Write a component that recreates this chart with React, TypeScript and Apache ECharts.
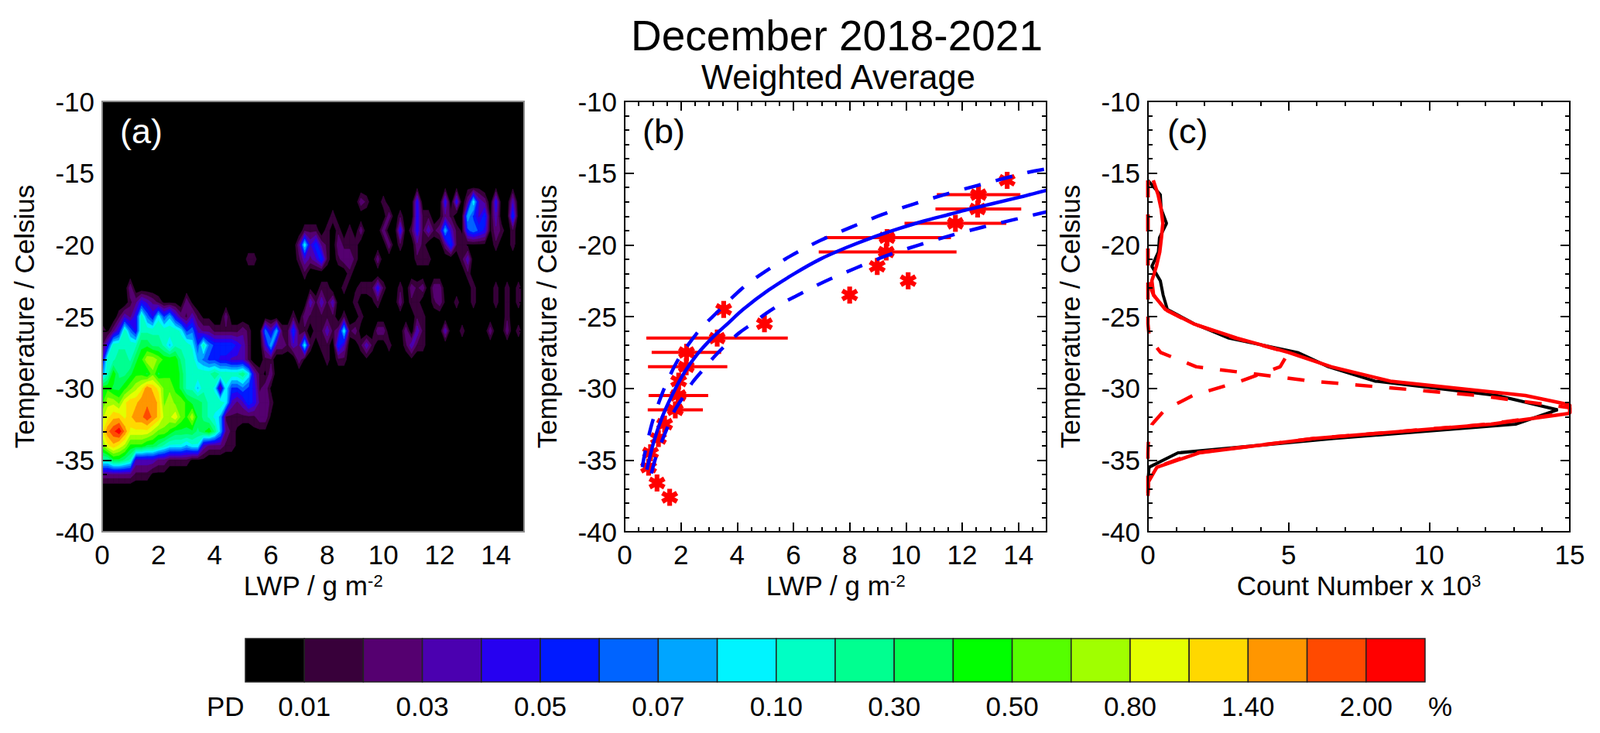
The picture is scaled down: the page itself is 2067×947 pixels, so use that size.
import React, { useEffect, useRef } from "react";
import * as echarts from "echarts";

const FONT = "Liberation Sans";
const TITLE = "December 2018-2021";
const SUBTITLE = "Weighted Average";

// ---- colour scale ----
const bandColors = [
  "#000000", "#38003a", "#550070", "#4b00b0", "#2600f0", "#001aff", "#0064ff", "#00a5ff", "#00f4ff", "#00ffc4",
  "#00ff90", "#00ff55", "#00ff00", "#55ff00", "#a0ff00", "#e4ff00", "#ffd800", "#ff9600", "#ff4a00", "#ff0000",
];
const bandEdgeLabels = ["0.01", "0.03", "0.05", "0.07", "0.10", "0.30", "0.50", "0.80", "1.40", "2.00"];

// ---- panel (a): colour band of each node. Rows are temperatures, columns LWP in steps of 0.2 from 0.
// "." is empty, digits and a-j are bands 0-19.
const pdNodeStep = 0.2;
const blobTemps = [-23, -24, -25, -26, -27, -28, -29, -30, -31, -32, -33, -34, -35, -36];
const blobBandRows = [
  ".....2",
  ".....124321000.20",
  "...13249648574213100..2",
  "1024964" + "9999999" + "856322" + "11111" + "21" + ".." + "6371151",
  "1499999bbaa979998" + "5965555431" + ".." + "372213281",
  "399aa9bceedccca99" + "7655443331" + ".." + "11" + "...." + "20",
  "69caabccbdbcccb" + "99999" + "a" + "9999" + "a83102",
  "ccbbcdefhgfddcb" + "99799" + "8285565" + "41" + "20",
  "ceedfgghhhgdedd" + "cbba999" + "8323542" + "21",
  "efggfghhihgeefd" + "ceba987" + "111111" + "220",
  "fhijhffffeddcbb" + "bbabca7" + "210" + ".." + "000",
  "dfgfecccbba9888" + "788322211" + "0",
  "99bba9333322111" + "1000",
  "222222111000",
];
// Isolated cells right of the main blob: [LWP, temperature, band]
const isolatedNodes: number[][] = [
  [9.2, -17, 2], [9.4, -17, 1], [10.0, -17, 1], [11.2, -17, 4], [12.2, -17, 4], [12.6, -17, 4], [13.0, -17, 2], [13.2, -17, 8], [13.4, -17, 3], [13.6, -17, 2], [14.0, -17, 4], [14.6, -17, 3],
  [13.0, -16, 0], [13.2, -16, 0], [13.4, -16, 0], [14.0, -16, 0], [14.6, -16, 0], [11.2, -16, 0], [12.2, -16, 0], [12.6, -16, 0],
  [8.2, -18, 1], [10.2, -18, 2], [10.6, -18, 1], [11.2, -18, 4], [11.4, -18, 1], [11.6, -18, 1], [12.0, -18, 0], [12.2, -18, 2], [12.4, -18, 1], [12.8, -18, 0], [13.0, -18, 7], [13.2, -18, 5], [13.4, -18, 3], [13.6, -18, 5], [13.8, -18, 0], [14.0, -18, 3], [14.6, -18, 5],
  [7.2, -19, 1], [7.4, -19, 1], [7.6, -19, 1], [8.0, -19, 1], [8.4, -19, 1], [8.8, -19, 1], [9.2, -19, 2], [10.0, -19, 2], [10.6, -19, 4], [11.0, -19, 1], [11.2, -19, 4], [11.4, -19, 1], [11.6, -19, 3], [11.8, -19, 1], [12.0, -19, 2], [12.2, -19, 7], [12.4, -19, 3], [12.6, -19, 1], [12.8, -19, 0], [13.0, -19, 5], [13.2, -19, 6], [13.4, -19, 5], [13.6, -19, 4], [13.8, -19, 0], [14.0, -19, 2], [14.2, -19, 1], [14.6, -19, 1],
  [7.0, -20, 2], [7.2, -20, 8], [7.4, -20, 3], [7.6, -20, 5], [7.8, -20, 2], [8.0, -20, 1], [8.4, -20, 2], [8.6, -20, 1], [8.8, -20, 1], [9.0, -20, 1], [10.2, -20, 2], [10.6, -20, 1], [11.2, -20, 2], [11.4, -20, 1], [12.2, -20, 2], [12.4, -20, 5], [12.6, -20, 1], [12.8, -20, 1], [13.0, -20, 0], [13.2, -20, 0], [13.4, -20, 0], [13.6, -20, 0], [14.0, -20, 1], [14.6, -20, 1],
  [5.2, -21, 1], [5.4, -21, 1], [7.0, -21, 1], [7.2, -21, 3], [7.4, -21, 2], [7.6, -21, 3], [7.8, -21, 5], [8.0, -21, 1], [8.4, -21, 1], [8.6, -21, 2], [8.8, -21, 2], [9.0, -21, 1], [9.8, -21, 2], [11.2, -21, 1], [11.4, -21, 1], [11.6, -21, 1], [12.8, -21, 1], [13.0, -21, 3],
  [7.2, -22, 1], [8.8, -22, 1], [13.0, -22, 1],
  [7.4, -23, 0], [7.8, -23, 1], [8.0, -23, 1], [8.6, -23, 1], [9.0, -23, 0], [9.2, -23, 1], [9.4, -23, 1], [9.6, -23, 1], [9.8, -23, 4], [10.0, -23, 1], [10.6, -23, 1], [11.0, -23, 2], [11.2, -23, 1], [11.4, -23, 2], [11.8, -23, 2], [12.0, -23, 2], [13.2, -23, 1], [14.0, -23, 1], [14.4, -23, 1], [14.8, -23, 1],
  [7.4, -24, 3], [7.6, -24, 1], [7.8, -24, 3], [8.0, -24, 1], [8.2, -24, 3], [9.0, -24, 1], [9.6, -24, 0], [9.8, -24, 1], [10.6, -24, 2], [11.0, -24, 1], [11.2, -24, 1], [11.8, -24, 1], [12.0, -24, 2], [12.2, -24, 0], [12.6, -24, 1], [13.2, -24, 1], [14.0, -24, 1], [14.4, -24, 1], [14.8, -24, 1],
  [6.8, -25, 1], [7.2, -25, 2], [7.4, -25, 1], [7.6, -25, 1], [7.8, -25, 1], [8.0, -25, 1], [8.2, -25, 1], [8.6, -25, 1], [9.2, -25, 1], [11.2, -25, 1], [11.4, -25, 1], [14.4, -25, 1],
  [7.2, -26, 1], [7.6, -26, 1], [7.8, -26, 1], [8.0, -26, 3], [8.2, -26, 1], [8.4, -26, 2], [8.6, -26, 8], [8.8, -26, 1], [9.0, -26, 2], [9.8, -26, 2], [10.0, -26, 2], [10.8, -26, 2], [11.2, -26, 3], [11.4, -26, 1], [12.2, -26, 3], [12.8, -26, 1], [13.8, -26, 2], [14.4, -26, 2], [14.8, -26, 1],
  [7.8, -27, 1], [8.0, -27, 1], [8.4, -27, 5], [8.6, -27, 3], [9.2, -27, 1], [9.4, -27, 3], [9.6, -27, 1], [10.2, -27, 1], [10.8, -27, 1], [11.0, -27, 3], [11.2, -27, 1], [11.4, -27, 1],
  [8.0, -28, 1], [8.4, -28, 1], [8.6, -28, 1], [9.4, -28, 0], [11.0, -28, 0],
];

// ---- panel (b) ----
const starPoints = [
  [13.6, -15.5], [12.58, -16.5], [12.55, -17.5], [11.76, -18.5], [9.33, -19.5], [9.3, -20.5], [8.98, -21.5], [10.08, -22.5],
  [8.0, -23.5], [3.52, -24.5], [4.97, -25.5], [3.29, -26.5], [2.2, -27.5], [2.19, -28.5], [1.92, -29.5], [1.9, -30.5],
  [1.8, -31.5], [1.42, -32.5], [1.2, -33.5], [0.92, -34.5], [0.85, -35.5], [1.15, -36.6], [1.6, -37.6],
];
// [low LWP, high LWP, temperature]
const errorBars = [
  [11.1, 14.07, -16.5], [11.05, 14.1, -17.5], [9.95, 13.57, -18.5], [7.1, 11.6, -19.5], [6.9, 11.8, -20.5],
  [0.77, 5.8, -26.5], [0.96, 3.43, -27.5], [0.83, 3.65, -28.5], [0.85, 2.97, -30.5], [0.82, 2.78, -31.5],
];
const fitCurve = [
  [0.79, -35.67], [1.04, -33.7], [1.32, -32.07], [1.69, -30.46], [2.14, -28.84], [2.6, -27.58], [3.15, -26.41], [3.7, -25.42],
  [4.21, -24.5], [5.12, -23.15], [6.04, -22.0], [6.95, -21.0], [7.87, -20.2], [8.79, -19.5], [9.7, -18.9], [10.62, -18.35],
  [11.54, -17.88], [12.18, -17.55], [14.0, -16.7], [15.0, -16.2],
];
const fitUpper = [
  [0.63, -35.5], [0.72, -34.5], [1.0, -32.25], [1.41, -30.0], [1.92, -27.94], [2.65, -25.96], [3.1, -25.06], [4.21, -22.98],
  [4.89, -22.0], [5.9, -20.77], [6.95, -19.7], [8.06, -18.76], [9.16, -17.89], [10.3, -17.14], [11.45, -16.45], [12.6, -15.83],
  [14.33, -14.95], [15.0, -14.7],
];
const fitLower = [
  [0.95, -35.94], [1.1, -34.86], [1.32, -33.7], [1.55, -32.6], [1.78, -31.53], [2.1, -30.55], [2.42, -29.56], [2.79, -28.7],
  [3.2, -27.76], [3.61, -26.95], [4.07, -26.14], [4.53, -25.5], [5.03, -24.78], [5.53, -24.15], [6.08, -23.58], [7.14, -22.53],
  [8.24, -21.6], [9.34, -20.73], [10.48, -20.0], [11.63, -19.33], [12.8, -18.73], [13.97, -18.18], [15.0, -17.7],
];

// ---- panel (c) ----
const countTotal = [
  [0.0, -15.5], [0.44, -16.5], [0.47, -17.5], [0.66, -18.5], [0.41, -19.5], [0.37, -20.5], [0.14, -21.5], [0.44, -22.5],
  [0.54, -23.5], [0.69, -24.5], [1.64, -25.5], [2.88, -26.5], [5.32, -27.5], [6.42, -28.5], [8.07, -29.5], [12.42, -30.5],
  [14.57, -31.5], [13.07, -32.5], [6.6, -33.5], [1.07, -34.5], [0.04, -35.5], [0.0, -36.5],
];
const countFit = [
  [0.19, -15.5], [0.36, -16.5], [0.47, -17.5], [0.53, -18.5], [0.48, -19.5], [0.42, -20.5], [0.3, -21.5], [0.14, -22.5],
  [0.2, -23.5], [0.62, -24.5], [1.62, -25.5], [3.17, -26.5], [5.0, -27.5], [6.52, -28.5], [8.62, -29.5], [13.42, -30.5],
  [15.0, -31.15], [15.0, -31.75], [12.2, -32.5], [5.9, -33.5], [1.82, -34.5], [0.32, -35.5], [0.02, -36.5], [0.0, -37.5],
];
const gaussLower = [
  [0.0, -15.5], [0.0, -20.5], [0.0, -25.5], [0.05, -26.5], [0.45, -27.5], [1.72, -28.5], [5.82, -29.5], [11.77, -30.5],
  [15.0, -31.35], [15.0, -31.7], [12.1, -32.5], [5.9, -33.5], [1.7, -34.5], [0.3, -35.5], [0.02, -36.5], [0.0, -37.5],
];
const gaussUpper = [
  [0.0, -15.5], [0.0, -22.5], [0.2, -23.5], [0.6, -24.5], [1.6, -25.5], [3.1, -26.5], [5.0, -27.5], [4.7, -28.5],
  [3.3, -29.5], [1.6, -30.5], [0.6, -31.5], [0.15, -32.5], [0.02, -33.5], [0.0, -34.5], [0.0, -37.5],
];

const xTicksMajor = [0, 2, 4, 6, 8, 10, 12, 14];
const STAR_PATH =
  "path://M36 0H64V100H36Z M-0.3 37.1L13.7 12.9L100.3 62.9L86.3 87.1Z M13.7 87.1L-0.3 62.9L86.3 12.9L100.3 37.1Z";

const nCols = 76;
const tempMin = -40;
const nRows = 31;
function buildGrid(): number[][] {
  const g: number[][] = [];
  for (let r = 0; r < nRows; r++) g.push(new Array(nCols).fill(0));
  const toValue = (band: number) => band + 0.7;
  blobTemps.forEach((t, i) => {
    const s = blobBandRows[i];
    for (let c = 0; c < s.length; c++) {
      if (s[c] !== ".") g[t - tempMin][c] = toValue(parseInt(s[c], 36));
    }
  });
  isolatedNodes.forEach(([l, t, b]) => {
    g[t - tempMin][Math.round(l / pdNodeStep)] = toValue(b);
  });
  return g;
}

function clipAbove(p: number[][], level: number): number[][] {
  const out: number[][] = [];
  for (let i = 0; i < p.length; i++) {
    const a = p[i];
    const b = p[(i + 1) % p.length];
    const ina = a[2] >= level;
    const inb = b[2] >= level;
    if (ina) out.push([a[0], a[1]]);
    if (ina !== inb) {
      const t = (level - a[2]) / (b[2] - a[2]);
      out.push([a[0] + t * (b[0] - a[0]), a[1] + t * (b[1] - a[1])]);
    }
  }
  return out;
}

const tickLabel = { fontFamily: FONT, fontSize: 35, color: "#000" };

function panelAxes(gridIndex: number, lineColor: string, xName: any, xInterval: number, xMinor: boolean) {
  const line = { show: lineColor === "#000", onZero: false, lineStyle: { color: lineColor, width: 2 } };
  const majorBase = {
    type: "value", gridIndex, min: 0, max: 15, interval: xInterval, z: 6, splitLine: { show: false },
    axisLine: line,
    axisTick: { show: true, inside: true, length: 12, lineStyle: { color: "#000", width: 2 } },
    minorTick: xMinor ? { show: false } : { show: true, splitNumber: 5, length: 6, lineStyle: { color: "#000", width: 2 } },
  };
  const minorBase = {
    type: "value", gridIndex, min: 0, max: 15, interval: 0.5, z: 6, splitLine: { show: false },
    axisLine: { show: false, onZero: false }, axisLabel: { show: false },
    axisTick: { show: true, inside: true, length: 6, lineStyle: { color: "#000", width: 2 } },
  };
  const xs: any[] = [
    {
      ...majorBase, position: "bottom",
      axisTick: xMinor ? { ...majorBase.axisTick, customValues: xTicksMajor } : majorBase.axisTick,
      axisLabel: xMinor
        ? { ...tickLabel, margin: 12, customValues: xTicksMajor, formatter: (v: number) => String(v) }
        : { ...tickLabel, margin: 12, formatter: (v: number) => String(v) },
      ...xName,
    },
    {
      ...majorBase, position: "top", axisLabel: { show: false },
      axisTick: xMinor ? { ...majorBase.axisTick, customValues: xTicksMajor } : majorBase.axisTick,
    },
  ];
  if (xMinor) {
    xs.push({ ...minorBase, position: "bottom" }, { ...minorBase, position: "top" });
  }
  const yBase = {
    type: "value", gridIndex, min: -40, max: -10, interval: 5, z: 6, splitLine: { show: false },
    axisLine: line,
    axisTick: { show: true, inside: true, length: 12, lineStyle: { color: "#000", width: 2 } },
    minorTick: { show: true, splitNumber: 5, length: 6, lineStyle: { color: "#000", width: 2 } },
  };
  const ys: any[] = [
    {
      ...yBase, position: "left", axisLabel: { ...tickLabel, margin: 10 },
      name: "Temperature / Celsius", nameLocation: "middle", nameGap: 83, nameRotate: 90,
      nameTextStyle: { fontFamily: FONT, fontSize: 35, color: "#000" },
    },
    { ...yBase, position: "right", axisLabel: { show: false } },
  ];
  return { xs, ys };
}

const xNameStyle = (text: string) => ({
  name: text,
  nameLocation: "middle",
  nameGap: 52,
  nameTextStyle: {
    fontFamily: FONT, fontSize: 35, color: "#000",
    rich: { sup: { fontFamily: FONT, fontSize: 22, color: "#000", verticalAlign: "top", lineHeight: 30 } },
  },
});

export default function App() {
  const ref = useRef<HTMLDivElement>(null);
  useEffect(() => {
    document.body.style.margin = "0";
    const chart = echarts.init(ref.current!, undefined, { renderer: "svg" });
    const grid = buildGrid();
    // one item per (band, cell), lowest band first, so that higher bands always paint over lower ones
    const bandCells: number[][] = [];
    for (let k = 1; k < bandColors.length; k++) {
      for (let r = 0; r < nRows - 1; r++) {
        for (let c = 0; c < nCols - 1; c++) {
          if (Math.max(grid[r][c], grid[r][c + 1], grid[r + 1][c], grid[r + 1][c + 1]) >= k) bandCells.push([c, r, k]);
        }
      }
    }

    const pa = panelAxes(0, "#8c8c8c", xNameStyle("LWP / g m{sup|-2}"), 2, true);
    const pb = panelAxes(1, "#000", xNameStyle("LWP / g m{sup|-2}"), 2, true);
    const pc = panelAxes(2, "#000", xNameStyle("Count Number x 10{sup|3}"), 5, false);
    const xAxes = [...pa.xs, ...pb.xs, ...pc.xs];
    const yAxes = [...pa.ys, ...pb.ys, ...pc.ys];
    const aX = 0, bX = pa.xs.length, cX = pa.xs.length + pb.xs.length;
    const aY = 0, bY = 2, cY = 4;

    // colour bar
    const barX = xAxes.length, barY = yAxes.length;
    xAxes.push({
      type: "value", gridIndex: 3, min: 0, max: 20, interval: 1, position: "bottom",
      axisLine: { show: false, onZero: false }, axisTick: { show: false }, splitLine: { show: false },
      axisLabel: {
        ...tickLabel, margin: 14,
        formatter: (v: number) => (v % 2 === 1 ? bandEdgeLabels[(v - 1) / 2] : ""),
      },
    });
    yAxes.push({ type: "value", gridIndex: 3, min: 0, max: 1, show: false });

    const redLine = (data: number[][], dashed: boolean, width = 4.5) => ({
      type: "line", xAxisIndex: cX, yAxisIndex: cY, data, symbol: "none", silent: true, clip: false,
      lineStyle: { color: "#ff0000", width, type: dashed ? [22, 22] : "solid" },
    });
    const blueLine = (data: number[][], dashed: boolean) => ({
      type: "line", xAxisIndex: bX, yAxisIndex: bY, data, symbol: "none", silent: true, z: 4, smooth: 0.3,
      lineStyle: { color: "#0000ff", width: 4.5, type: dashed ? [22, 20] : "solid" },
    });

    chart.setOption({
      animation: false,
      backgroundColor: "#fff",
      title: [
        { text: TITLE, left: 1076, top: 13, textAlign: "center", textStyle: { fontFamily: FONT, fontSize: 55, fontWeight: "normal", color: "#000" } },
        { text: SUBTITLE, left: 1078, top: 73, textAlign: "center", textStyle: { fontFamily: FONT, fontSize: 43.5, fontWeight: "normal", color: "#000" } },
      ],
      grid: [
        { left: 132, top: 131, width: 545, height: 556, show: true, backgroundColor: "#000", borderWidth: 0 },
        { left: 807, top: 131, width: 545, height: 556 },
        { left: 1483, top: 131, width: 545, height: 556 },
        { left: 317, top: 825, width: 1524, height: 56 },
      ],
      xAxis: xAxes,
      yAxis: yAxes,
      graphic: [
        { type: "rect", x: 132, y: 131, z: 100, shape: { x: 0, y: 0, width: 545, height: 556 }, style: { fill: "none", stroke: "#8c8c8c", lineWidth: 2 } },
        { type: "text", left: 155, top: 147, z: 100, style: { text: "(a)", fontFamily: FONT, fontSize: 45, fill: "#fff" } },
        { type: "text", left: 830, top: 147, z: 100, style: { text: "(b)", fontFamily: FONT, fontSize: 45, fill: "#000" } },
        { type: "text", left: 1508, top: 147, z: 100, style: { text: "(c)", fontFamily: FONT, fontSize: 45, fill: "#000" } },
        { type: "text", left: 267, top: 895, z: 100, style: { text: "PD", fontFamily: FONT, fontSize: 35, fill: "#000" } },
        { type: "text", left: 1845, top: 895, z: 100, style: { text: "%", fontFamily: FONT, fontSize: 35, fill: "#000" } },
      ],
      series: [
        {
          type: "custom", coordinateSystem: "cartesian2d", xAxisIndex: aX, yAxisIndex: aY, clip: true, silent: true,
          data: bandCells.map(([c, r]) => [c * pdNodeStep, r + tempMin]),
          encode: { x: 0, y: 1 },
          renderItem: (params: any, api: any) => {
            const [c, r, k] = bandCells[params.dataIndex];
            const corner = (cc: number, rr: number) => {
              const p = api.coord([cc * pdNodeStep, rr + tempMin]);
              return [p[0], p[1], grid[rr][cc]];
            };
            const quad = [corner(c, r), corner(c + 1, r), corner(c + 1, r + 1), corner(c, r + 1)];
            const pts = clipAbove(quad, k);
            return {
              type: "polygon", shape: { points: pts },
              style: { fill: bandColors[k], stroke: bandColors[k], lineWidth: 0.6 },
            };
          },
        },
        {
          type: "custom", coordinateSystem: "cartesian2d", xAxisIndex: bX, yAxisIndex: bY, clip: true, silent: true,
          data: errorBars, encode: { x: [0, 1], y: 2 },
          renderItem: (_p: any, api: any) => {
            const a = api.coord([api.value(0), api.value(2)]);
            const b = api.coord([api.value(1), api.value(2)]);
            return { type: "line", shape: { x1: a[0], y1: a[1], x2: b[0], y2: b[1] }, style: { stroke: "#ff0000", lineWidth: 4 } };
          },
        },
        {
          type: "scatter", xAxisIndex: bX, yAxisIndex: bY, data: starPoints, symbol: STAR_PATH, symbolSize: 22, silent: true,
          clip: true, itemStyle: { color: "#ff0000", opacity: 1 },
        },
        blueLine(fitCurve, false),
        blueLine(fitUpper, true),
        blueLine(fitLower, true),
        { type: "line", xAxisIndex: cX, yAxisIndex: cY, data: countTotal, symbol: "none", silent: true, clip: false, lineStyle: { color: "#000", width: 4 } },
        redLine(gaussLower, true),
        redLine(gaussUpper, true),
        redLine(countFit, false),
        {
          type: "custom", coordinateSystem: "cartesian2d", xAxisIndex: barX, yAxisIndex: barY, silent: true,
          data: bandColors.map((_, k) => [k]), encode: { x: 0 },
          renderItem: (params: any, api: any) => {
            const k = params.dataIndex;
            const a = api.coord([k, 1]);
            const b = api.coord([k + 1, 0]);
            return {
              type: "rect", shape: { x: a[0], y: a[1], width: b[0] - a[0], height: b[1] - a[1] },
              style: { fill: bandColors[k], stroke: "#222", lineWidth: 1.5 },
            };
          },
        },
      ],
    });
    return () => chart.dispose();
  }, []);
  return <div ref={ref} style={{ position: "absolute", left: 0, top: 0, width: 2067, height: 947 }} />;
}
